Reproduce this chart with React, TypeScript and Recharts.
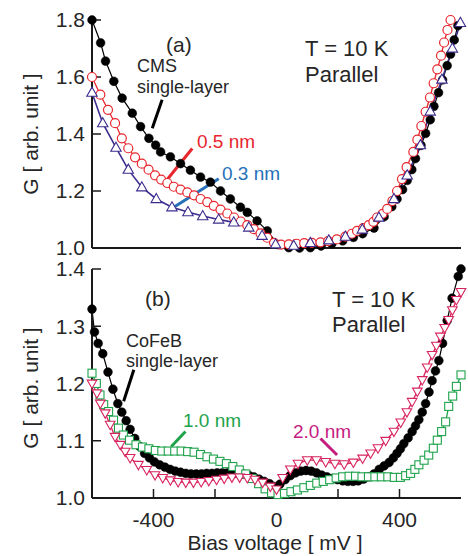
import React from "react"
import { LineChart, Line, XAxis, YAxis, ReferenceLine } from "recharts"

// panel (a): CMS electrode
const cmsX = [-600, -572, -556, -529, -502, -469, -442, -415, -393, -377, -345, -312, -280, -247, -215, -182, -150, -117, -95, -63, -30, 5, 40, 75, 110, 145, 180, 215, 250, 280, 317, 350, 375, 392, 410, 425, 440, 452, 470, 485, 500, 512, 527, 540, 555, 566, 578, 590]
const cmsY = [1.8, 1.72, 1.656, 1.585, 1.526, 1.473, 1.426, 1.385, 1.361, 1.337, 1.32, 1.296, 1.273, 1.249, 1.231, 1.2, 1.172, 1.143, 1.125, 1.095, 1.06, 1.012, 1.001, 1.0, 1.001, 1.007, 1.015, 1.025, 1.037, 1.05, 1.07, 1.11, 1.145, 1.172, 1.205, 1.237, 1.275, 1.314, 1.36, 1.402, 1.45, 1.497, 1.545, 1.59, 1.64, 1.68, 1.73, 1.78]

const nm05X = [-600, -573, -548, -525, -503, -482, -460, -438, -416, -395, -375, -355, -334, -312, -290, -268, -247, -225, -204, -182, -160, -138, -116, -95, -74, -52, -30, -8, 15, 40, 65, 90, 115, 143, 168, 196, 224, 245, 262, 282, 300, 315, 327, 345, 360, 377, 392, 408, 423, 445, 458, 471, 485, 499, 511, 523, 535, 545, 556, 566]
const nm05Y = [1.6, 1.538, 1.485, 1.438, 1.385, 1.35, 1.318, 1.296, 1.275, 1.255, 1.24, 1.228, 1.215, 1.205, 1.195, 1.185, 1.172, 1.161, 1.148, 1.135, 1.121, 1.107, 1.093, 1.08, 1.066, 1.051, 1.036, 1.018, 1.012, 1.013, 1.015, 1.017, 1.018, 1.02, 1.024, 1.03, 1.04, 1.05, 1.06, 1.07, 1.08, 1.092, 1.107, 1.12, 1.137, 1.165, 1.2, 1.242, 1.284, 1.337, 1.38, 1.428, 1.478, 1.528, 1.578, 1.627, 1.675, 1.721, 1.765, 1.8]

const nm03X = [-600, -565, -522, -482, -438, -391, -340, -288, -240, -188, -139, -90, -47, -3, 56, 110, 170, 224, 279, 333, 382, 425, 468, 500, 538, 572, 598]
const nm03Y = [1.545, 1.438, 1.352, 1.275, 1.213, 1.172, 1.143, 1.126, 1.112, 1.1, 1.09, 1.072, 1.043, 1.013, 1.008, 1.018, 1.027, 1.04, 1.065, 1.107, 1.172, 1.255, 1.361, 1.479, 1.591, 1.7, 1.79]

// panel (b): CoFeB electrode
const cofebX = [-600, -592, -580, -565, -548, -532, -516, -503, -489, -476, -461, -445, -429, -413, -397, -380, -363, -346, -329, -312, -295, -278, -261, -244, -227, -210, -193, -176, -159, -142, -125, -108, -91, -74, -57, -40, -23, -6, 11, 28, 45, 62, 79, 96, 113, 130, 147, 164, 181, 198, 215, 232, 249, 266, 283, 300, 317, 334, 350, 366, 380, 392, 403, 414, 428, 441, 452, 463, 474, 485, 496, 506, 517, 528, 540, 555, 571, 591, 600]
const cofebY = [1.33, 1.29, 1.27, 1.252, 1.22, 1.19, 1.165, 1.15, 1.135, 1.12, 1.104, 1.09, 1.078, 1.07, 1.063, 1.058, 1.054, 1.05, 1.047, 1.045, 1.043, 1.042, 1.042, 1.042, 1.043, 1.043, 1.044, 1.044, 1.044, 1.044, 1.043, 1.042, 1.04, 1.037, 1.033, 1.029, 1.025, 1.02, 1.024, 1.032, 1.039, 1.044, 1.047, 1.048, 1.047, 1.044, 1.04, 1.037, 1.034, 1.032, 1.03, 1.029, 1.029, 1.03, 1.033, 1.037, 1.042, 1.05, 1.056, 1.062, 1.07, 1.078, 1.086, 1.095, 1.105, 1.116, 1.126, 1.137, 1.15, 1.165, 1.185, 1.205, 1.222, 1.24, 1.27, 1.31, 1.349, 1.387, 1.4]

const nm10X = [-600, -586, -574, -562, -546, -530, -514, -498, -478, -457, -436, -415, -394, -373, -352, -331, -310, -289, -268, -247, -226, -205, -184, -163, -142, -121, -100, -79, -58, -37, -16, 5, 26, 47, 68, 89, 110, 131, 152, 173, 194, 215, 236, 257, 278, 299, 320, 341, 362, 383, 403, 420, 436, 450, 463, 480, 495, 510, 523, 537, 550, 560, 573, 585, 600]
const nm10Y = [1.218, 1.2, 1.18, 1.163, 1.151, 1.136, 1.122, 1.11, 1.101, 1.093, 1.089, 1.086, 1.083, 1.082, 1.082, 1.082, 1.082, 1.081, 1.08, 1.076, 1.072, 1.068, 1.064, 1.06, 1.055, 1.049, 1.042, 1.034, 1.025, 1.016, 1.009, 1.006, 1.008, 1.011, 1.014, 1.018, 1.022, 1.026, 1.029, 1.032, 1.035, 1.037, 1.038, 1.038, 1.037, 1.037, 1.037, 1.037, 1.037, 1.036, 1.036, 1.039, 1.043, 1.05, 1.058, 1.066, 1.075, 1.087, 1.101, 1.116, 1.133, 1.16, 1.178, 1.195, 1.215]

const nm20X = [-600, -584, -573, -557, -541, -525, -508, -492, -476, -449, -422, -395, -370, -345, -320, -295, -270, -245, -220, -195, -170, -145, -120, -95, -70, -45, -20, 0, 20, 45, 70, 100, 130, 160, 190, 220, 250, 280, 306, 330, 355, 382, 404, 424, 441, 458, 474, 490, 506, 520, 533, 547, 560, 572, 585, 600]
const nm20Y = [1.2, 1.183, 1.165, 1.148, 1.128, 1.107, 1.093, 1.081, 1.07, 1.058, 1.049, 1.04, 1.035, 1.031, 1.028, 1.027, 1.027, 1.028, 1.03, 1.032, 1.034, 1.036, 1.036, 1.035, 1.032, 1.027, 1.02, 1.015, 1.035, 1.05, 1.06, 1.066, 1.066, 1.063, 1.06, 1.059, 1.062, 1.069, 1.078, 1.087, 1.1, 1.116, 1.132, 1.15, 1.168, 1.186, 1.206, 1.228, 1.25, 1.266, 1.282, 1.297, 1.311, 1.328, 1.346, 1.36]

const xTicks = [-400, -200, 0, 200, 400]
const topYTicks = [1.0, 1.2, 1.4, 1.6, 1.8]
const bottomYTicks = [1.0, 1.1, 1.2, 1.3, 1.4]

const toPoints = (xs: number[], ys: number[]) => xs.map((x, i) => ({ x, y: ys[i] }))

const FONT = "'Liberation Sans', Arial, sans-serif"
const AXIS = "#1a1a1a"
const TEXT = "#262626"
const RED = "#e8262e"
const PURPLE = "#3d2c8d"
const BLUE = "#2670b8"
const GREEN = "#1ea34b"
const PINK = "#d8245e"
const MAGENTA = "#c51c80"

const filledCircle = (color: string) => (p: any) =>
  <circle key={`fc-${p.index}`} cx={p.cx} cy={p.cy} r={4.4} fill={color} stroke={color} strokeWidth={0.5} />

const openCircle = (color: string) => (p: any) =>
  <circle key={`oc-${p.index}`} cx={p.cx} cy={p.cy} r={4.5} fill="#fff" stroke={color} strokeWidth={1.2} />

const upTriangle = (color: string) => (p: any) => {
  const { cx, cy } = p
  return <path key={`ut-${p.index}`} d={`M${cx},${cy - 5.5}L${cx + 5.2},${cy + 3.6}L${cx - 5.2},${cy + 3.6}Z`} fill="#fff" stroke={color} strokeWidth={1.1} />
}

const downTriangle = (color: string) => (p: any) => {
  const { cx, cy } = p
  return <path key={`dt-${p.index}`} d={`M${cx},${cy + 5}L${cx + 4.8},${cy - 3.4}L${cx - 4.8},${cy - 3.4}Z`} fill="#fff" stroke={color} strokeWidth={1.1} />
}

const square = (color: string) => (p: any) =>
  <rect key={`sq-${p.index}`} x={p.cx - 4} y={p.cy - 4} width={8} height={8} fill="#fff" stroke={color} strokeWidth={1.1} />

const axisLine = { stroke: AXIS, strokeWidth: 2 }
const tickLine = { stroke: AXIS, strokeWidth: 1.5 }
const tickFont = { fontSize: 21, fill: TEXT, fontFamily: FONT }

const Frame = (yDomain: number[], yTicks: number[], showX: boolean) => [
  <XAxis key="xb" dataKey="x" type="number" domain={[-600, 600]} ticks={xTicks} interval={0} tickSize={-9} tickMargin={23}
    height={showX ? 40 : 1} axisLine={axisLine} tickLine={tickLine} tick={showX ? tickFont : false}
    tickFormatter={(v: number) => (v % 400 === 0 ? String(v) : "")} />,
  <XAxis key="xt" xAxisId="top" orientation="top" dataKey="x" type="number" domain={[-600, 600]} ticks={xTicks} interval={0}
    tickSize={-9} height={0} axisLine={axisLine} tickLine={tickLine} tick={false} />,
  <YAxis key="yl" type="number" domain={yDomain} ticks={yTicks} interval={0} tickSize={-9} tickMargin={16} width={70}
    axisLine={axisLine} tickLine={tickLine} tick={tickFont} tickFormatter={(v: number) => v.toFixed(1)} />,
  <YAxis key="yr" yAxisId="right" orientation="right" type="number" domain={yDomain} ticks={yTicks} interval={0} tickSize={-9}
    width={0} axisLine={axisLine} tickLine={tickLine} tick={false} />,
]

const App = () => {
  return (
    <div style={{ position: "absolute", left: 0, top: 0, width: 468, height: 556, background: "#fff", fontFamily: FONT }}>
      <style>{`svg.recharts-surface { overflow: visible; }`}</style>
      <div style={{ position: "absolute", left: 0, top: 0 }}>
        <LineChart width={468} height={258} margin={{ top: 20, right: 7, bottom: 9, left: 22 }}>
          {Frame([1.0, 1.8], topYTicks, false)}
          <Line data={toPoints(cmsX, cmsY)} dataKey="y" stroke="#000" strokeWidth={1.2} dot={filledCircle("#000")} isAnimationActive={false} />
          <Line data={toPoints(nm05X, nm05Y)} dataKey="y" stroke={RED} strokeWidth={1.3} dot={openCircle(RED)} isAnimationActive={false} />
          <Line data={toPoints(nm03X, nm03Y)} dataKey="y" stroke={PURPLE} strokeWidth={1.6} dot={upTriangle(PURPLE)} isAnimationActive={false} />
          <ReferenceLine segment={[{ x: -372, y: 1.52 }, { x: -404, y: 1.42 }]} stroke="#000" strokeWidth={3} />
          <ReferenceLine segment={[{ x: -274, y: 1.349 }, { x: -358, y: 1.237 }]} stroke={RED} strokeWidth={3} />
          <ReferenceLine segment={[{ x: -188, y: 1.243 }, { x: -334, y: 1.143 }]} stroke={BLUE} strokeWidth={3} />
        </LineChart>
      </div>
      <div style={{ position: "absolute", left: 0, top: 258 }}>
        <LineChart width={468} height={298} margin={{ top: 11, right: 7, bottom: 18, left: 22 }}>
          {Frame([1.0, 1.4], bottomYTicks, true)}
          <Line data={toPoints(cofebX, cofebY)} dataKey="y" stroke="#000" strokeWidth={1.2} dot={filledCircle("#000")} isAnimationActive={false} />
          <Line data={toPoints(nm10X, nm10Y)} dataKey="y" stroke={GREEN} strokeWidth={1.3} dot={square(GREEN)} isAnimationActive={false} />
          <Line data={toPoints(nm20X, nm20Y)} dataKey="y" stroke={PINK} strokeWidth={1.3} dot={downTriangle(PINK)} isAnimationActive={false} />
          <ReferenceLine segment={[{ x: -464, y: 1.224 }, { x: -497, y: 1.169 }]} stroke="#000" strokeWidth={3} />
          <ReferenceLine segment={[{ x: -296, y: 1.116 }, { x: -342, y: 1.09 }]} stroke={GREEN} strokeWidth={3} />
          <ReferenceLine segment={[{ x: 143, y: 1.104 }, { x: 197, y: 1.075 }]} stroke={MAGENTA} strokeWidth={3} />
        </LineChart>
      </div>
      <svg width={468} height={556} style={{ position: "absolute", left: 0, top: 0, pointerEvents: "none" }} fontFamily={FONT}>
        <text transform="translate(38,134) rotate(-90)" textAnchor="middle" fontSize={21} fill={TEXT}>G [ arb. unit ]</text>
        <text transform="translate(38,388) rotate(-90)" textAnchor="middle" fontSize={21} fill={TEXT}>G [ arb. unit ]</text>
        <text x={275} y={550} textAnchor="middle" fontSize={21} fill={TEXT}>Bias voltage [ mV ]</text>

        <text x={166} y={52} fontSize={21} fill={TEXT}>(a)</text>
        <text x={137} y={72} fontSize={18} fill={TEXT}>CMS</text>
        <text x={137} y={93} fontSize={18} fill={TEXT}>single-layer</text>
        <text x={197} y={148} fontSize={19} fill={RED}>0.5 nm</text>
        <text x={222} y={180} fontSize={19} fill={BLUE}>0.3 nm</text>
        <text x={305} y={56} fontSize={22} fill={TEXT}>T = 10 K</text>
        <text x={305} y={82} fontSize={22} fill={TEXT}>Parallel</text>

        <text x={145} y={306} fontSize={21} fill={TEXT}>(b)</text>
        <text x={126} y={347} fontSize={18} fill={TEXT}>CoFeB</text>
        <text x={126} y={367} fontSize={18} fill={TEXT}>single-layer</text>
        <text x={183} y={427} fontSize={19} fill={GREEN}>1.0 nm</text>
        <text x={293} y={438} fontSize={19} fill={MAGENTA}>2.0 nm</text>
        <text x={332} y={307} fontSize={22} fill={TEXT}>T = 10 K</text>
        <text x={332} y={332} fontSize={22} fill={TEXT}>Parallel</text>
      </svg>
    </div>
  )
}

export default App
